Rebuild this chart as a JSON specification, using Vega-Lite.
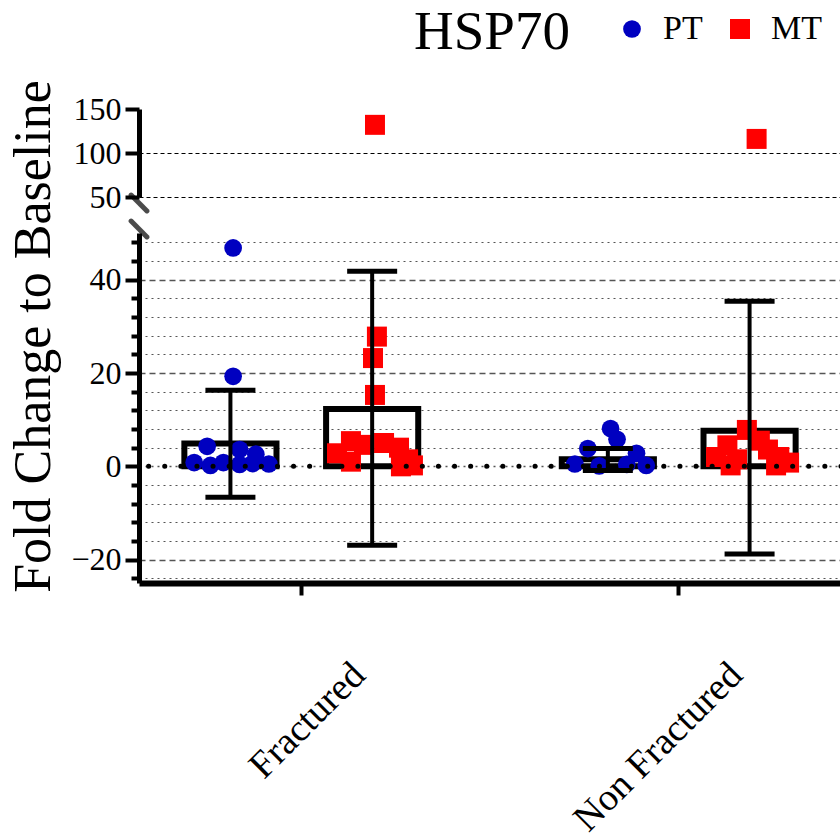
{
  "$schema": "https://vega.github.io/schema/vega-lite/v6.json",
  "padding": {"left": 6, "top": 5, "right": 0, "bottom": 0},
  "background": "white",
  "config": {
    "view": {"stroke": null},
    "font": "Liberation Serif",
    "axis": {"labelFont": "Liberation Serif", "titleFont": "Liberation Serif", "labelColor": "black", "titleColor": "black", "titleFontWeight": "normal"},
    "legend": {"labelFont": "Liberation Serif", "labelFontSize": 34, "labelColor": "black"}
  },
  "datasets": {
    "points": [
      {"group": "Fractured", "series": "PT", "value": 46.8, "jitter": -0.21},
      {"group": "Fractured", "series": "PT", "value": 19.3, "jitter": -0.21},
      {"group": "Fractured", "series": "PT", "value": 4.3, "jitter": -0.29},
      {"group": "Fractured", "series": "PT", "value": 3.6, "jitter": -0.19},
      {"group": "Fractured", "series": "PT", "value": 2.6, "jitter": -0.14},
      {"group": "Fractured", "series": "PT", "value": 0.8, "jitter": -0.33},
      {"group": "Fractured", "series": "PT", "value": 0.2, "jitter": -0.28},
      {"group": "Fractured", "series": "PT", "value": 0.8, "jitter": -0.24},
      {"group": "Fractured", "series": "PT", "value": 0.4, "jitter": -0.19},
      {"group": "Fractured", "series": "PT", "value": 0.6, "jitter": -0.15},
      {"group": "Fractured", "series": "PT", "value": 0.5, "jitter": -0.10},
      {"group": "Non Fractured", "series": "PT", "value": 8.1, "jitter": -0.21},
      {"group": "Non Fractured", "series": "PT", "value": 5.8, "jitter": -0.19},
      {"group": "Non Fractured", "series": "PT", "value": 3.8, "jitter": -0.28},
      {"group": "Non Fractured", "series": "PT", "value": 2.8, "jitter": -0.13},
      {"group": "Non Fractured", "series": "PT", "value": 0.5, "jitter": -0.32},
      {"group": "Non Fractured", "series": "PT", "value": 0.1, "jitter": -0.245},
      {"group": "Non Fractured", "series": "PT", "value": 0.4, "jitter": -0.16},
      {"group": "Non Fractured", "series": "PT", "value": 0.2, "jitter": -0.10},
      {"group": "Fractured", "series": "MT", "value": 132, "jitter": 0.227},
      {"group": "Fractured", "series": "MT", "value": 27.8, "jitter": 0.233},
      {"group": "Fractured", "series": "MT", "value": 23.2, "jitter": 0.221},
      {"group": "Fractured", "series": "MT", "value": 15.3, "jitter": 0.227},
      {"group": "Fractured", "series": "MT", "value": 2.8, "jitter": 0.11},
      {"group": "Fractured", "series": "MT", "value": 5.4, "jitter": 0.153},
      {"group": "Fractured", "series": "MT", "value": 4.6, "jitter": 0.193},
      {"group": "Fractured", "series": "MT", "value": 1.0, "jitter": 0.153},
      {"group": "Fractured", "series": "MT", "value": 5.0, "jitter": 0.255},
      {"group": "Fractured", "series": "MT", "value": 4.0, "jitter": 0.301},
      {"group": "Fractured", "series": "MT", "value": 1.5, "jitter": 0.329},
      {"group": "Fractured", "series": "MT", "value": 0.0, "jitter": 0.307},
      {"group": "Fractured", "series": "MT", "value": 0.2, "jitter": 0.344},
      {"group": "Non Fractured", "series": "MT", "value": 116, "jitter": 0.24},
      {"group": "Non Fractured", "series": "MT", "value": 7.8, "jitter": 0.21},
      {"group": "Non Fractured", "series": "MT", "value": 4.5, "jitter": 0.15},
      {"group": "Non Fractured", "series": "MT", "value": 5.5, "jitter": 0.25},
      {"group": "Non Fractured", "series": "MT", "value": 2.0, "jitter": 0.115},
      {"group": "Non Fractured", "series": "MT", "value": 1.5, "jitter": 0.18},
      {"group": "Non Fractured", "series": "MT", "value": 3.6, "jitter": 0.275},
      {"group": "Non Fractured", "series": "MT", "value": 2.0, "jitter": 0.31},
      {"group": "Non Fractured", "series": "MT", "value": 0.8, "jitter": 0.34},
      {"group": "Non Fractured", "series": "MT", "value": 0.2, "jitter": 0.16},
      {"group": "Non Fractured", "series": "MT", "value": 0.2, "jitter": 0.30}
    ],
    "summary": [
      {"group": "Fractured", "series": "PT", "mean": 4.9, "lo": -6.6, "hi": 16.3},
      {"group": "Fractured", "series": "MT", "mean": 12.3, "lo": -16.9, "hi": 41.8},
      {"group": "Non Fractured", "series": "PT", "mean": 1.5, "lo": -0.9, "hi": 3.8},
      {"group": "Non Fractured", "series": "MT", "mean": 7.6, "lo": -18.8, "hi": 35.4}
    ]
  },
  "bounds": "flush",
  "spacing": 36,
  "resolve": {
    "scale": {"x": "independent", "y": "independent", "color": "independent", "shape": "independent", "size": "independent"},
    "legend": {"color": "independent", "shape": "independent", "size": "independent"}
  },
  "vconcat": [
    {
      "width": 702,
      "height": 88,
      "title": {"text": "HSP70", "font": "Liberation Serif", "fontSize": 55, "fontWeight": "normal", "color": "black", "anchor": "start", "frame": "group", "dx": 275, "offset": -49},
      "resolve": {"scale": {"xOffset": "independent"}},
      "layer": [
        {
          "data": {"name": "points"},
          "transform": [{"filter": "datum.value > 50"}],
          "mark": {"type": "point", "filled": true, "opacity": 1},
          "encoding": {
            "x": {"field": "group", "type": "nominal", "scale": {"type": "band", "domain": ["Fractured", "Non Fractured"], "paddingInner": 0.14, "paddingOuter": 0}, "axis": null},
            "xOffset": {"field": "jitter", "type": "quantitative", "scale": {"domain": [-0.5, 0.5]}},
            "y": {"field": "value", "type": "quantitative", "scale": {"domain": [50, 150], "nice": false, "zero": false},
              "axis": {"title": null, "values": [50, 100, 150], "tickCount": 50, "labelFont": "Liberation Serif", "labelFontSize": 32, "labelPadding": 4, "labelFlush": false,
                "domainWidth": 5, "domainColor": "black", "tickSize": 14, "tickWidth": 4, "tickColor": "black",
                "grid": true, "gridColor": "black", "gridWidth": 1.2, "gridDash": [4, 3],
                "gridOpacity": {"condition": {"test": "datum.value >= 150", "value": 0}, "value": 1}}},
            "color": {"field": "series", "type": "nominal", "scale": {"domain": ["PT", "MT"], "range": ["#0000c0", "#ff0000"]},
              "legend": {"title": null, "orient": "none", "direction": "horizontal", "legendX": 476, "legendY": -97, "labelOffset": 14, "columnPadding": 20, "padding": 0, "symbolStrokeWidth": 0, "labelFont": "Liberation Serif"}},
            "shape": {"field": "series", "type": "nominal", "scale": {"domain": ["PT", "MT"], "range": ["circle", "square"]}},
            "size": {"field": "series", "type": "nominal", "scale": {"domain": ["PT", "MT"], "range": [314, 400]}}
          }
        },
        {
          "data": {"values": [{"mark": "break"}]},
          "mark": {"type": "point", "shape": "M-1,-1L1,1", "filled": false, "stroke": "black", "strokeWidth": 5, "strokeCap": "round", "size": 250, "yOffset": 6},
          "encoding": {
            "x": {"datum": "Fractured", "bandPosition": 0},
            "y": {"datum": 50}
          }
        }
      ]
    },
    {
      "width": 702,
      "height": 350,
      "resolve": {"scale": {"xOffset": "independent"}},
      "layer": [
        {
          "data": {"name": "summary"},
          "mark": {"type": "bar", "fill": "white", "fillOpacity": 0, "stroke": "black", "strokeWidth": 6},
          "encoding": {
            "x": {"field": "group", "type": "nominal", "scale": {"type": "band", "domain": ["Fractured", "Non Fractured"], "paddingInner": 0.14, "paddingOuter": 0},
              "axis": {"title": null, "labelFont": "Liberation Serif", "labelAngle": -45, "labelAlign": "right", "labelBaseline": "middle", "labelFontSize": 38, "labelOffset": 58, "labelPadding": 74,
                "tickSize": 12, "tickWidth": 4, "tickColor": "black", "domainWidth": 6, "domainColor": "black", "labelLimit": 400, "labelOverlap": false, "grid": false}},
            "xOffset": {"field": "series", "type": "nominal", "scale": {"domain": ["PT", "MT"], "paddingInner": 0.35, "paddingOuter": 0.32}},
            "y": {"field": "mean", "type": "quantitative", "scale": {"domain": [-25, 50], "nice": false, "zero": false},
              "axis": {"title": "Fold Change to Baseline", "titleFont": "Liberation Serif", "titleFontSize": 52, "titleX": -90, "titleY": 103, "titleAngle": 270, "titleBaseline": "alphabetic", "titleAlign": "center",
                "values": [-24, -20, -16, -12, -8, -4, 0, 4, 8, 12, 16, 20, 24, 28, 32, 36, 40, 44, 48],
                "tickCount": 100,
                "labelExpr": "datum.value % 20 === 0 ? datum.label : ''",
                "labelFont": "Liberation Serif", "labelFontSize": 32, "labelPadding": 4, "labelFlush": false, "labelOverlap": false,
                "domainWidth": 5, "domainColor": "black", "tickWidth": 4, "tickColor": "black",
                "tickSize": {"condition": {"test": "datum.value % 20 === 0", "value": 14}, "value": 8},
                "grid": true, "gridColor": "#555555",
                "gridWidth": {"condition": {"test": "datum.value % 20 === 0", "value": 1.6}, "value": 1.2},
                "gridDash": {"condition": {"test": "datum.value % 20 === 0 && datum.value !== 0", "value": [6, 4]}, "value": [2, 4]}}},
            "y2": {"datum": 0}
          }
        },
        {
          "data": {"name": "points"},
          "transform": [{"filter": "datum.value <= 50"}],
          "mark": {"type": "point", "filled": true, "opacity": 1},
          "encoding": {
            "x": {"field": "group", "type": "nominal"},
            "xOffset": {"field": "jitter", "type": "quantitative", "scale": {"domain": [-0.5, 0.5]}},
            "y": {"field": "value", "type": "quantitative"},
            "color": {"field": "series", "type": "nominal", "scale": {"domain": ["PT", "MT"], "range": ["#0000c0", "#ff0000"]}, "legend": null},
            "shape": {"field": "series", "type": "nominal", "scale": {"domain": ["PT", "MT"], "range": ["circle", "square"]}, "legend": null},
            "size": {"field": "series", "type": "nominal", "scale": {"domain": ["PT", "MT"], "range": [314, 400]}, "legend": null}
          }
        },
        {
          "data": {"name": "summary"},
          "mark": {"type": "rule", "color": "black", "strokeWidth": 4},
          "encoding": {
            "x": {"field": "group", "type": "nominal"},
            "xOffset": {"field": "series", "type": "nominal", "scale": {"domain": ["PT", "MT"], "paddingInner": 0.35, "paddingOuter": 0.32}},
            "y": {"field": "lo", "type": "quantitative"},
            "y2": {"field": "hi"}
          }
        },
        {
          "data": {"name": "summary"},
          "mark": {"type": "tick", "orient": "horizontal", "color": "black", "size": 50, "thickness": 5, "opacity": 1},
          "encoding": {
            "x": {"field": "group", "type": "nominal"},
            "xOffset": {"field": "series", "type": "nominal", "scale": {"domain": ["PT", "MT"], "paddingInner": 0.35, "paddingOuter": 0.32}},
            "y": {"field": "lo", "type": "quantitative"}
          }
        },
        {
          "data": {"name": "summary"},
          "mark": {"type": "tick", "orient": "horizontal", "color": "black", "size": 50, "thickness": 5, "opacity": 1},
          "encoding": {
            "x": {"field": "group", "type": "nominal"},
            "xOffset": {"field": "series", "type": "nominal", "scale": {"domain": ["PT", "MT"], "paddingInner": 0.35, "paddingOuter": 0.32}},
            "y": {"field": "hi", "type": "quantitative"}
          }
        },
        {
          "data": {"values": [{"mark": "zero"}]},
          "mark": {"type": "rule", "color": "black", "strokeWidth": 5, "strokeDash": [0.1, 16], "strokeCap": "round"},
          "encoding": {"y": {"datum": 0}}
        },
        {
          "data": {"values": [{"mark": "break"}]},
          "mark": {"type": "point", "shape": "M-1,-1L1,1", "filled": false, "stroke": "black", "strokeWidth": 5, "strokeCap": "round", "size": 250, "yOffset": -4},
          "encoding": {
            "x": {"datum": "Fractured", "bandPosition": 0},
            "y": {"datum": 50}
          }
        }
      ]
    }
  ]
}
